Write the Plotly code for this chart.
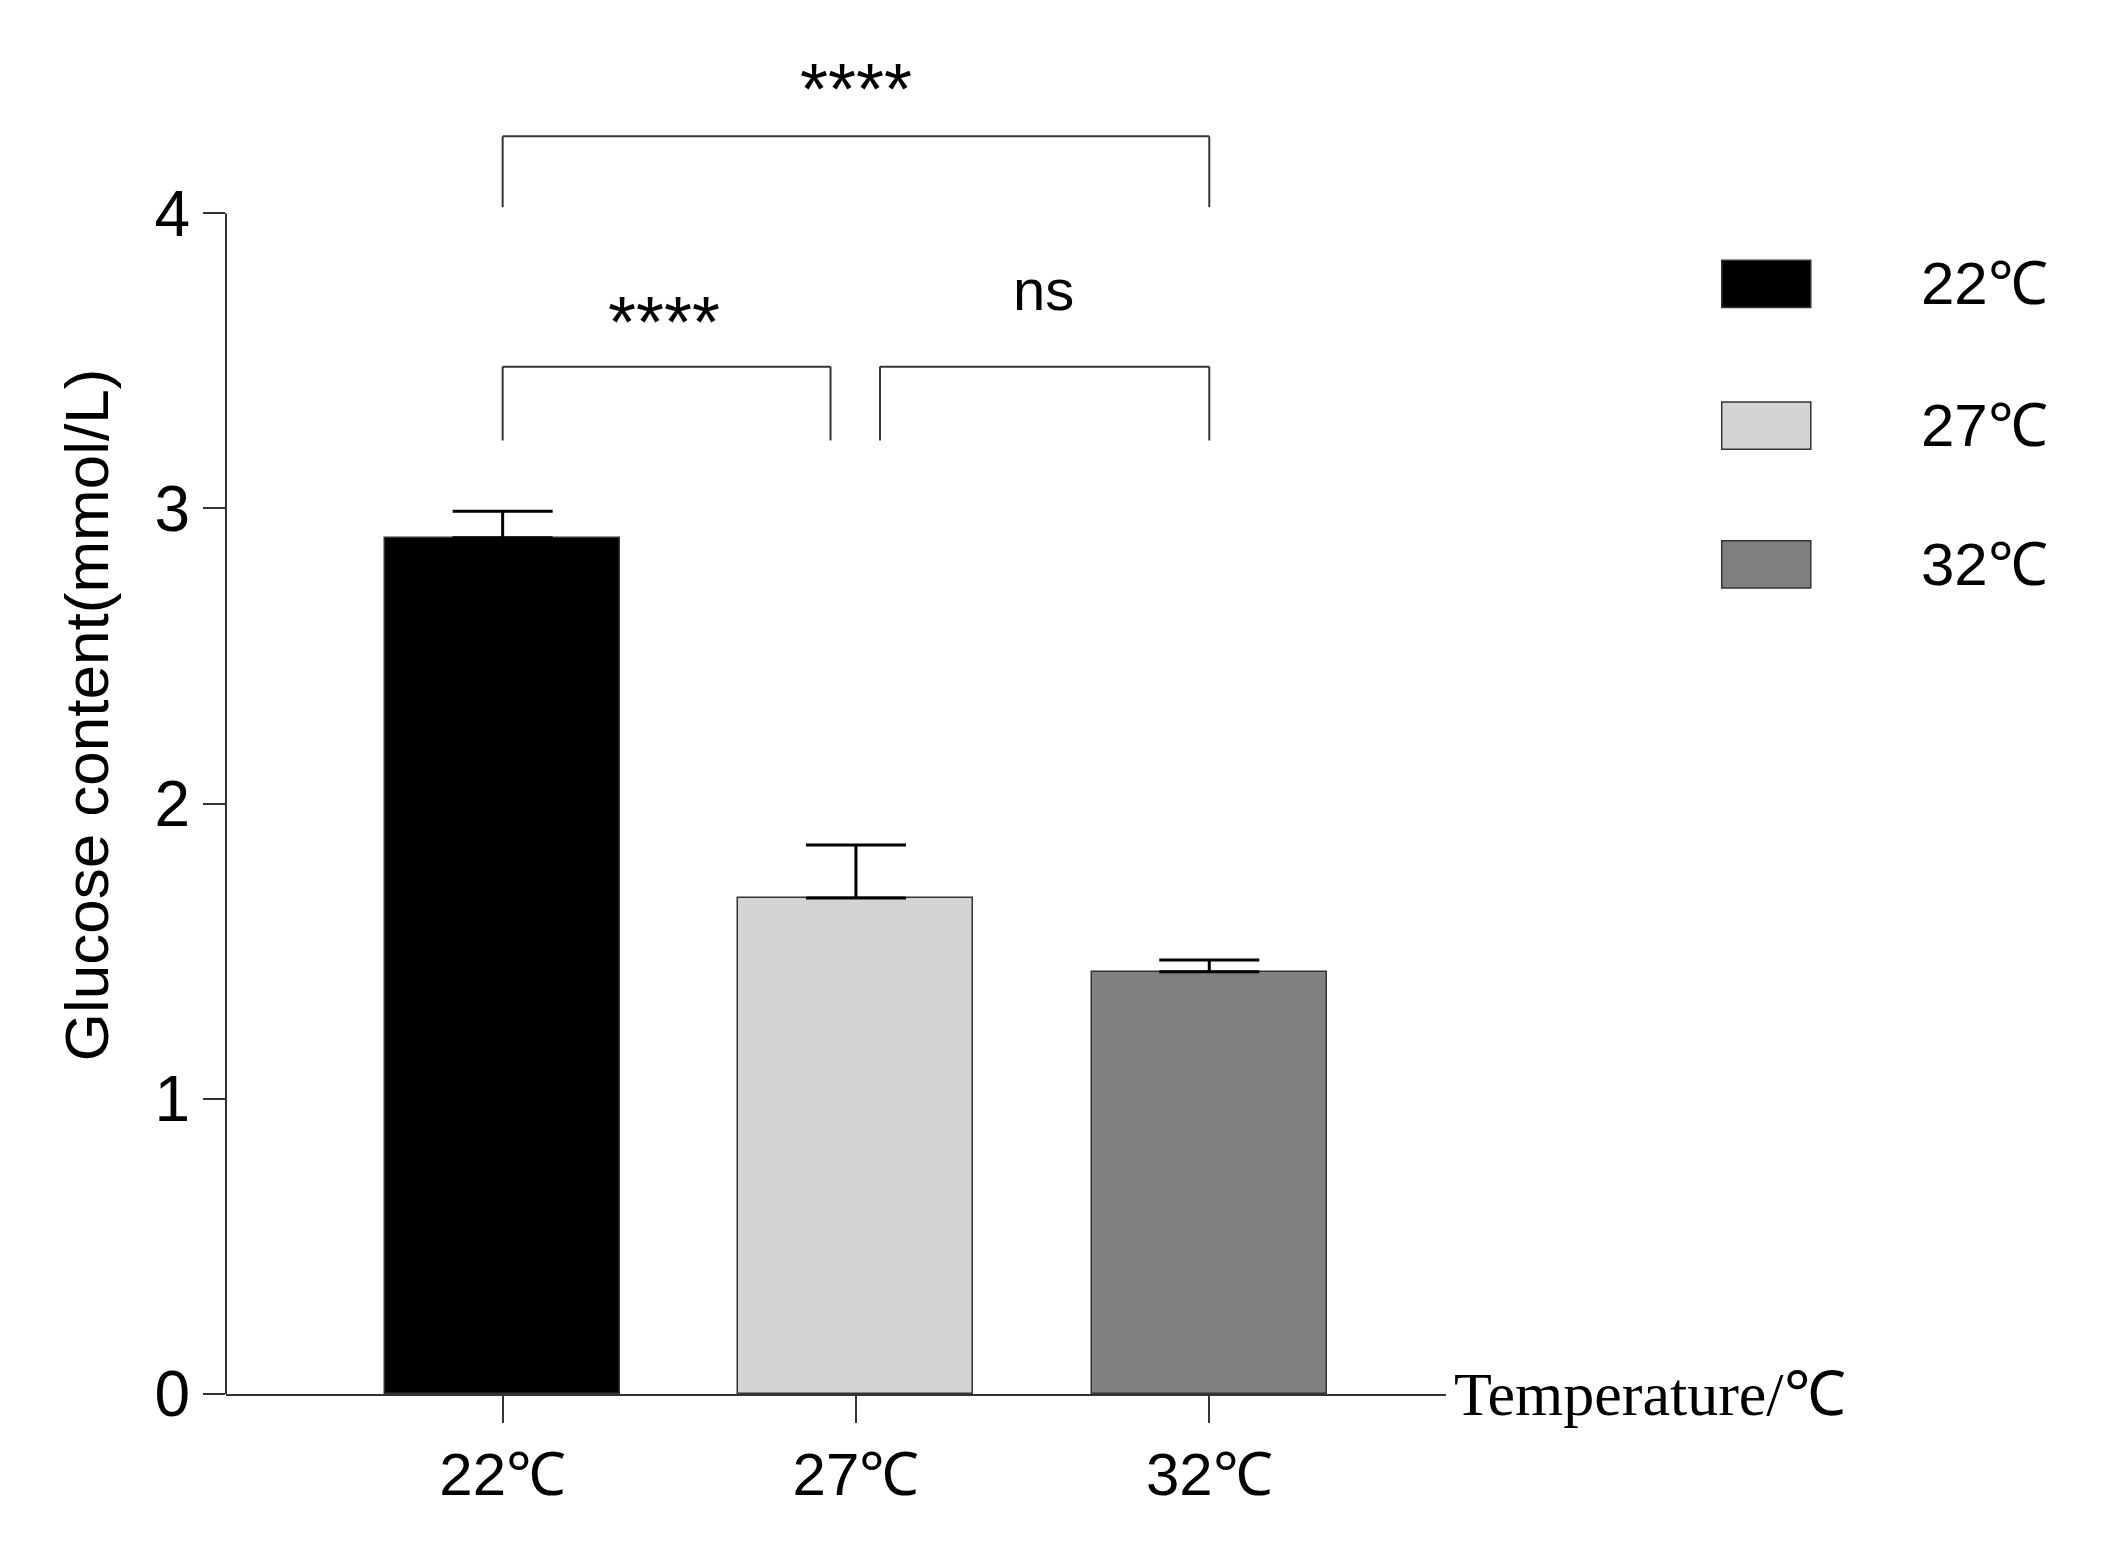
import plotly.graph_objects as go

categories = ["22℃", "27℃", "32℃"]
means = [2.90, 1.68, 1.43]
errors = [0.09, 0.18, 0.04]
colors = ["#000000", "#d4d4d4", "#808080"]
legend_labels = ["22℃", "27℃", "32℃"]

fig = go.Figure()
for i, (c, m, e, col) in enumerate(zip(categories, means, errors, colors)):
    fig.add_trace(go.Bar(
        x=[i], y=[m], width=0.665, marker=dict(color=col, line=dict(color="#333333", width=1.5)),
        error_y=dict(type="data", symmetric=False, array=[e], arrayminus=[0], color="black", thickness=3, width=50),
        showlegend=False))

shapes = []
# y axis line 0..4
shapes.append(dict(type="line", xref="paper", yref="y", x0=0, x1=0, y0=0, y1=4, line=dict(color="#333", width=2)))
# brackets
def bracket(x0, x1, ytop, ybot):
    for (a, b, c, d) in [(x0, ybot, x0, ytop), (x0, ytop, x1, ytop), (x1, ytop, x1, ybot)]:
        shapes.append(dict(type="line", xref="x", yref="y", x0=a, y0=b, x1=c, y1=d, line=dict(color="#333", width=2)))
bracket(0, 2, 4.26, 4.02)
bracket(0, 0.928, 3.48, 3.23)
bracket(1.068, 2, 3.48, 3.23)

annotations = [
    dict(x=1.0, y=4.42, text="****", font=dict(size=72, color="black"), xref="x", yref="y", showarrow=False),
    dict(x=0.456, y=3.63, text="****", font=dict(size=72, color="black"), xref="x", yref="y", showarrow=False),
    dict(x=1.53, y=3.74, text="ns", font=dict(size=58, color="black"), xref="x", yref="y", showarrow=False),
    dict(x=1.005, y=0, text="Temperature/℃", font=dict(size=62, color="black", family="Liberation Serif"),
         xref="paper", yref="y", xanchor="left", showarrow=False),
]
ly = [3.76, 3.28, 2.81]
for lab, col, yy in zip(legend_labels, colors, ly):
    shapes.append(dict(type="rect", xref="paper", yref="y", x0=1.226, x1=1.299, y0=yy - 0.08, y1=yy + 0.08,
                       fillcolor=col, line=dict(color="#333", width=1.5)))
    annotations.append(dict(x=1.388, y=yy, text=lab, xref="paper", yref="y", xanchor="left", showarrow=False,
                            font=dict(size=60, color="black")))

fig.update_layout(
    width=2108, height=1541, paper_bgcolor="white", plot_bgcolor="white",
    margin=dict(l=218, r=670, t=28, b=155),
    font=dict(family="Liberation Sans", color="black"),
    shapes=shapes, annotations=annotations, bargap=0,
    xaxis=dict(range=[-0.783, 2.67], tickvals=[0, 1, 2], ticktext=categories, ticks="outside", ticklen=27,
               tickwidth=2, tickcolor="#333", showline=True, linecolor="#333", linewidth=2,
               tickfont=dict(size=60), showgrid=False, zeroline=False),
    yaxis=dict(range=[0, 4.6], tickvals=[0, 1, 2, 3, 4], ticks="outside", ticklen=22, tickwidth=2, tickcolor="#333",
               showline=False, showgrid=False, zeroline=False, tickfont=dict(size=64),
               title=dict(text="Glucose content(mmol/L)", font=dict(size=62), standoff=25)),
)
fig.write_html("out.html")
